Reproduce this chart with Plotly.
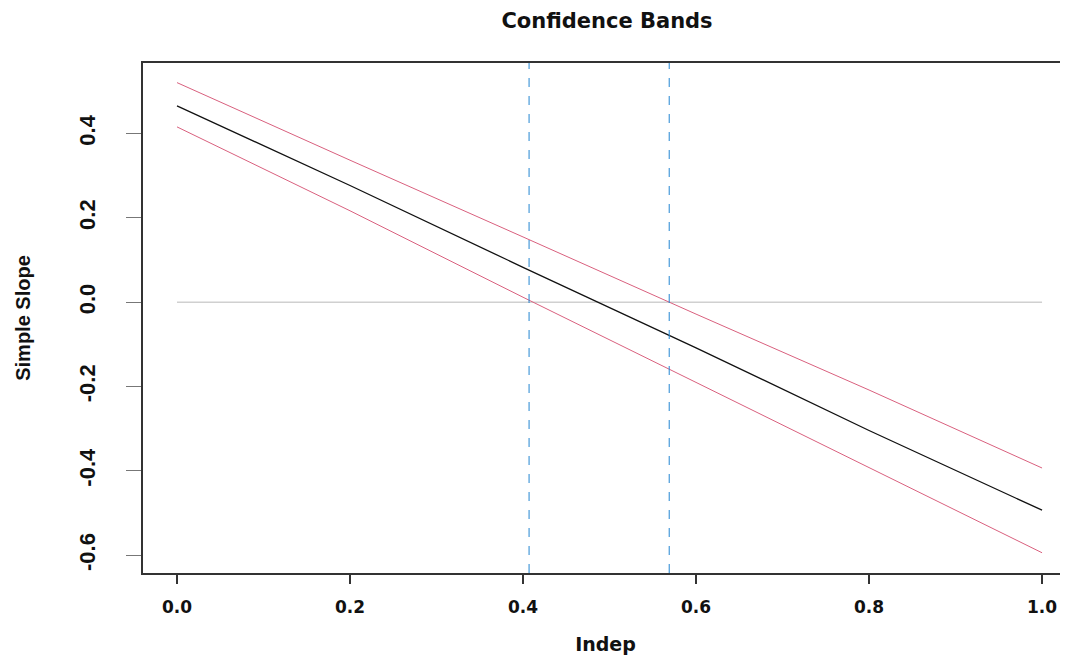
import plotly.graph_objects as go

# Data
indep = [0.0, 0.2, 0.4, 0.6, 0.8, 1.0]
slope_mid = [0.466, 0.277, 0.083, -0.108, -0.304, -0.493]
slope_upper = [0.521, 0.337, 0.155, -0.028, -0.208, -0.393]
slope_lower = [0.416, 0.217, 0.012, -0.190, -0.393, -0.594]
zero_x = [0.0, 1.0]
zero_y = [0.0, 0.0]
region_bounds = [0.407, 0.569]

x_ticks = [0.0, 0.2, 0.4, 0.6, 0.8, 1.0]
x_ticklabels = ["0.0", "0.2", "0.4", "0.6", "0.8", "1.0"]
y_ticks = [0.4, 0.2, 0.0, -0.2, -0.4, -0.6]
y_ticklabels = ["0.4", "0.2", "0.0", "-0.2", "-0.4", "-0.6"]

W, H = 1060, 657  # page body adds an 8px offset

fig = go.Figure()
fig.add_trace(go.Scatter(x=zero_x, y=zero_y, mode="lines",
                         line=dict(color="#d0d0d0", width=1.5), showlegend=False))
fig.add_trace(go.Scatter(x=indep, y=slope_upper, mode="lines",
                         line=dict(color="#d9607e", width=1), showlegend=False))
fig.add_trace(go.Scatter(x=indep, y=slope_lower, mode="lines",
                         line=dict(color="#d9607e", width=1), showlegend=False))
fig.add_trace(go.Scatter(x=indep, y=slope_mid, mode="lines",
                         line=dict(color="#111111", width=1.3), showlegend=False))
for xv in region_bounds:
    fig.add_vline(x=xv, line=dict(color="#2386d2", width=1, dash="dash"))

fig.update_layout(
    width=W, height=H,
    paper_bgcolor="white", plot_bgcolor="white",
    margin=dict(l=135, r=0, t=55, b=92, autoexpand=False),
    title=dict(text="<b>Confidence Bands</b>", x=599 / W, xref="container", xanchor="center",
               y=1 - 13 / H, yref="container", yanchor="middle",
               font=dict(family="DejaVu Sans", size=21, color="#111111")),
    xaxis=dict(range=[-0.0393, 1.030], tickmode="array", tickvals=x_ticks, ticktext=x_ticklabels,
               automargin=False,
               showgrid=False, zeroline=False, showline=True, linecolor="#333333", linewidth=1.5,
               mirror=True, ticks="outside", ticklen=9, tickwidth=1.5, tickcolor="#333333",
               ticklabelstandoff=9,
               tickfont=dict(family="DejaVu Sans", size=17, color="#111111", weight="bold"),
               title=dict(text="<b>Indep</b>", standoff=22,
                          font=dict(family="DejaVu Sans", size=19, color="#111111"))),
    yaxis=dict(range=[-0.642, 0.5675], tickmode="array", tickvals=y_ticks, ticktext=y_ticklabels,
               automargin=False,
               showgrid=False, zeroline=False, showline=True, linecolor="#333333", linewidth=1.5,
               mirror=True, ticks="outside", ticklen=15, tickwidth=1, tickcolor="#777777",
               tickangle=-90, ticklabelstandoff=22,
               tickfont=dict(family="Liberation Sans Narrow, Liberation Sans", size=22,
                             color="#111111", weight="bold"),
               title=dict(text="<b>Simple Slope</b>", standoff=39,
                          font=dict(family="Liberation Sans Narrow, Liberation Sans", size=20,
                                    color="#111111"))),
)
fig.write_html("out.html")
